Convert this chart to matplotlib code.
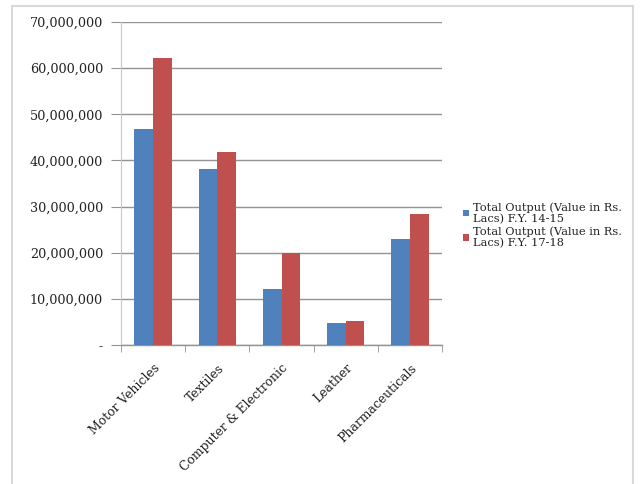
import matplotlib
matplotlib.use("Agg")
import matplotlib.pyplot as plt
import numpy as np
from matplotlib.patches import Rectangle, Patch
from matplotlib.ticker import FuncFormatter

categories = ["Motor Vehicles", "Textiles", "Computer & Electronic", "Leather", "Pharmaceuticals"]
fy_14_15 = [46750000, 38100000, 12100000, 4800000, 23000000]
fy_17_18 = [62300000, 41900000, 20000000, 5300000, 28400000]
series_labels = ["Total Output (Value in Rs.\nLacs) F.Y. 14-15", "Total Output (Value in Rs.\nLacs) F.Y. 17-18"]
yticks = [0, 10000000, 20000000, 30000000, 40000000, 50000000, 60000000, 70000000]

BLUE = "#4F81BD"
RED = "#C0504D"
GRID = "#939393"
FONT = "DejaVu Serif"

fig = plt.figure(figsize=(6.4, 4.84), dpi=100)
fig.patch.set_facecolor("white")
# outer chart frame
fig.patches.append(Rectangle((12 / 640, -0.01), 621 / 640, (484 - 6) / 484 + 0.01,
                             transform=fig.transFigure, fill=False,
                             edgecolor="#D9D9D9", linewidth=1.5))

ax = fig.add_axes([121 / 640, (484 - 345) / 484, (442 - 121) / 640, (345 - 22) / 484])
x = np.arange(len(categories))
w = 0.29
ax.bar(x - w / 2, fy_14_15, width=w, color=BLUE, zorder=3)
ax.bar(x + w / 2, fy_17_18, width=w, color=RED, zorder=3)

ax.set_xlim(-0.5, len(categories) - 0.5)
ax.set_ylim(0, 70000000)
ax.set_yticks(yticks)
ax.yaxis.set_major_formatter(FuncFormatter(lambda v, p: "-" if v == 0 else f"{int(v):,}"))
ax.grid(axis="y", color=GRID, linewidth=1.0, zorder=0)

for s in ["top", "right"]:
    ax.spines[s].set_visible(False)
ax.spines["left"].set_color("#C8C8C8")
ax.spines["bottom"].set_color(GRID)
ax.spines["left"].set_linewidth(0.8)
ax.spines["bottom"].set_linewidth(1.0)

ax.tick_params(axis="y", length=7, color=GRID, pad=6, labelsize=9.2)
for lab in ax.get_yticklabels():
    lab.set_fontfamily(FONT)
    lab.set_color("#222222")

ax.set_xticks(x)
ax.set_xticks(np.arange(-0.5, len(categories)), minor=True)
ax.tick_params(axis="x", which="major", length=0, pad=12)
ax.tick_params(axis="x", which="minor", length=5, color=GRID)
ax.set_xticklabels(categories, rotation=45, ha="right", rotation_mode="anchor",
                   fontsize=8.9, fontfamily=FONT, color="#222222")

handles = [Patch(facecolor=BLUE), Patch(facecolor=RED)]
leg = fig.legend(handles, series_labels, loc="upper left",
                 bbox_to_anchor=(463 / 640, (484 - 202) / 484),
                 frameon=False, prop={"family": FONT, "size": 8.2},
                 handlelength=0.55, handleheight=0.55, handletextpad=0.3,
                 labelspacing=0.2, borderpad=0, borderaxespad=0)
for t in leg.get_texts():
    t.set_linespacing(1.15)
    t.set_color("#222222")

fig.savefig("out.png", dpi=100, facecolor="white")
